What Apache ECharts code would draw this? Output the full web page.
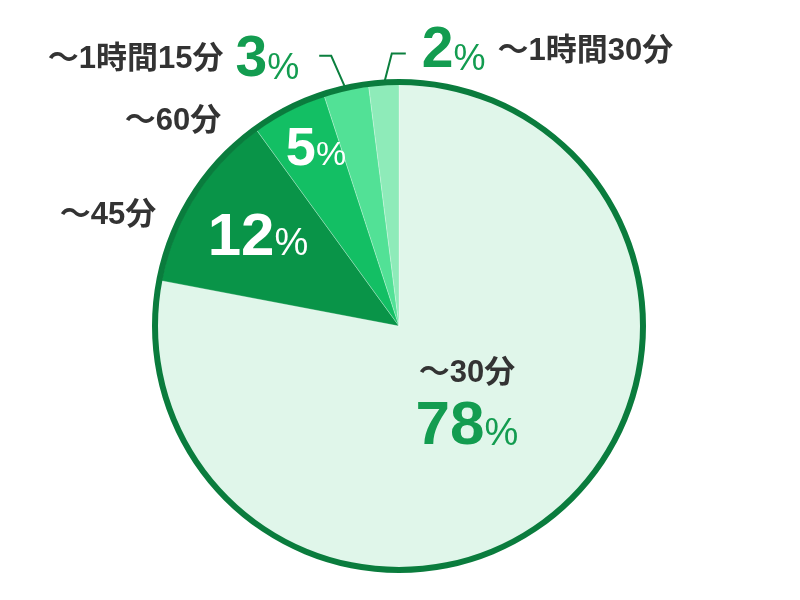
<!DOCTYPE html>
<html>
<head>
<meta charset="utf-8">
<script src="https://cdn.jsdelivr.net/npm/echarts@6/dist/echarts.min.js"></script>
<style>
  html, body { margin: 0; background: #fff; }
  #chart { width: 800px; height: 600px; }
</style>
</head>
<body>
<div id="chart"></div>
<script>
var names = ['～30分', '～45分', '～60分', '～1時間15分', '～1時間30分'];
var values = [78, 12, 5, 3, 2];
var colors = ['#e0f6ea', '#099448', '#13bf64', '#52e196', '#8eebb9'];

var font = "'Liberation Sans', 'Noto Sans CJK JP', sans-serif";
var green = '#139c50';
var center = [399, 326];

function txt(size, color, weight, lh) {
  return { fontSize: size, fontWeight: weight, color: color, fontFamily: font, lineHeight: lh };
}
// % sign sits on the digit baseline
function pct(size, color, h) {
  return { fontSize: size, fontWeight: 'normal', color: color, fontFamily: font,
    lineHeight: 30, height: h, verticalAlign: 'bottom' };
}

var rich = {
  n: txt(31, '#333', 'bold', 44),
  gap: { width: 12 },
  p: txt(57, green, 'bold', 58),
  ps: pct(36, green, 40),
  big: txt(62, green, 'bold', 64),
  bigs: pct(38, green, 49),
  pw: txt(60, '#fff', 'bold', 60),
  pws: pct(38, '#fff', 46),
  pw5: txt(54, '#fff', 'bold', 56),
  pw5s: pct(34, '#fff', 45)
};

var mainLabels = [
  '{n|' + names[0] + '}\n{big|' + values[0] + '}{bigs|%}',
  '{pw|' + values[1] + '}{pws|%}',
  '{pw5|' + values[2] + '}{pw5s|%}',
  '{n|' + names[3] + '}{gap|}{p|' + values[3] + '}{ps|%}',
  '{p|' + values[4] + '}{ps|%}{gap|}{n|' + names[4] + '}'
];

var mainData = values.map(function (v, i) {
  return {
    value: v,
    name: names[i],
    itemStyle: { color: colors[i] },
    label: {
      show: true,
      position: i >= 3 ? 'outside' : 'inside',
      formatter: mainLabels[i],
      overflow: 'none',
      rich: rich
    },
    labelLine: { show: i >= 3, length: 30, length2: 12, lineStyle: { color: '#0b7f3e', width: 2 } }
  };
});

// 円外の名前だけ
var nameData = values.map(function (v, i) {
  return {
    value: v,
    name: names[i],
    itemStyle: { color: 'rgba(0,0,0,0)' },
    label: {
      show: i === 1 || i === 2,
      position: 'outside',
      formatter: '{n|' + names[i] + '}',
      overflow: 'none',
      rich: rich
    },
    labelLine: { show: false }
  };
});

var myChart = echarts.init(document.getElementById('chart'));
var option = {
  animation: false,
  series: [
    {
      type: 'pie',
      center: center,
      radius: [241, 247],
      silent: true,
      label: { show: false },
      labelLine: { show: false },
      data: [{ value: 1, itemStyle: { color: '#0a7c3d' } }],
      z: 3
    },
    {
      type: 'pie',
      center: center,
      radius: 242,
      startAngle: 90,
      clockwise: true,
      silent: true,
      itemStyle: { borderColor: 'rgba(255,255,255,0.25)', borderWidth: 1 },
      data: mainData,
      labelLayout: function (p) {
        var i = p.dataIndex;
        if (i === 0) return { x: 467, y: 405, align: 'center', verticalAlign: 'middle' };
        if (i === 1) return { x: 258, y: 238, align: 'center', verticalAlign: 'middle' };
        if (i === 2) return { x: 316, y: 150, align: 'center', verticalAlign: 'middle' };
        var a = p.labelLinePoints[0];
        if (i === 3) {
          var b = [a[0] - 15, a[1] - 34];
          var c = [b[0] - 12, b[1]];
          return { x: c[0] - 20, y: c[1] + 4, align: 'right', verticalAlign: 'middle', labelLinePoints: [a, b, c] };
        }
        var b2 = [a[0] + 8, a[1] - 31];
        var c2 = [b2[0] + 14, b2[1]];
        return { x: c2[0] + 16, y: c2[1] - 2, align: 'left', verticalAlign: 'middle', labelLinePoints: [a, b2, c2] };
      },
      z: 2
    },
    {
      type: 'pie',
      center: center,
      radius: 242,
      startAngle: 90,
      silent: true,
      data: nameData,
      labelLayout: function (p) {
        if (p.dataIndex === 1) return { x: 108, y: 215, align: 'center', verticalAlign: 'middle' };
        if (p.dataIndex === 2) return { x: 173, y: 121, align: 'center', verticalAlign: 'middle' };
      },
      z: 4
    }
  ]
};
myChart.setOption(option);
</script>
</body>
</html>
